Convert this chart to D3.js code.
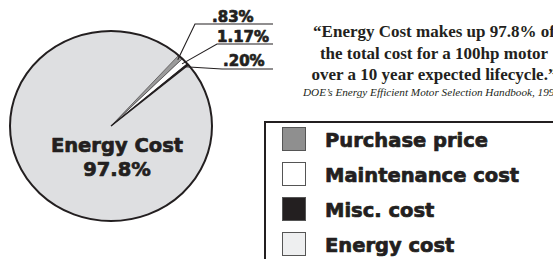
<!DOCTYPE html>
<html lang="en">
<meta charset="utf-8">
<head>
    <script src="https://d3js.org/d3.v7.min.js"></script>
    <style>
        body { margin: 0; background: #fff; }
    </style>
</head>
<body>
<script>
    // data
    var categories = ["Purchase price", "Maintenance cost", "Misc. cost", "Energy cost"];
    var shares = [0.83, 1.17, 0.20, 97.8];
    var sliceLabels = [".83%", "1.17%", ".20%"];
    var colors = ["#9b9b9b", "#ffffff", "#231f20", "#dedfe1"];
    var swatchColors = ["#8f8f8f", "#ffffff", "#231f20", "#eeeff0"];
    var quoteLines = [
        "\u201cEnergy Cost makes up 97.8% of",
        "the total cost for a 100hp motor",
        "over a 10 year expected lifecycle.\u201d"
    ];
    var citation = "DOE\u2019s Energy Efficient Motor Selection Handbook, 1996";

    var width = 553, height = 259;
    var svg = d3.select("body").append("svg")
        .attr("width", width)
        .attr("height", height);

    // heavy sans text, a thin stroke makes it look like a black weight
    function heavy(sel, size) {
        sel.style("font-family", "DejaVu Sans")
            .style("font-weight", "bold")
            .style("font-size", size + "px")
            .attr("fill", "#231f20")
            .attr("stroke", "#231f20")
            .attr("stroke-width", 0.7)
            .attr("stroke-linejoin", "round");
        return sel;
    }

    // pie, squashed a little vertically
    var cx = 111, cy = 126, rx = 101, ry = 95;
    var sy = ry / rx;
    var a0 = 42 * Math.PI / 180;

    var pie = d3.pie()
        .sort(null)
        .value(function(d) { return d; })
        .startAngle(a0)
        .endAngle(a0 + 2 * Math.PI);
    var arcs = pie(shares);

    var arc = d3.arc().innerRadius(0).outerRadius(rx);
    var edge = d3.arc().innerRadius(rx - 4).outerRadius(rx - 4);

    var g = svg.append("g")
        .attr("transform", "translate(" + cx + "," + cy + ") scale(1," + sy + ")");

    // energy slice first, small ones on top
    g.selectAll("path.slice")
        .data([arcs[3], arcs[0], arcs[1], arcs[2]])
        .enter()
        .append("path")
        .attr("class", "slice")
        .attr("d", arc)
        .attr("fill", function(d) { return colors[d.index]; })
        .attr("stroke", function(d) { return d.index == 3 ? "none" : "#231f20"; })
        .attr("stroke-width", function(d) { return d.index == 2 ? 1.4 : 0.6; })
        .attr("stroke-linejoin", "miter");

    g.append("ellipse")
        .attr("rx", rx)
        .attr("ry", rx)
        .attr("fill", "none")
        .attr("stroke", "#231f20")
        .attr("stroke-width", 2)
        .attr("vector-effect", "non-scaling-stroke");

    heavy(svg.append("text")
        .attr("x", 117)
        .attr("y", 152)
        .attr("text-anchor", "middle")
        .text("Energy Cost"), 19.5);
    heavy(svg.append("text")
        .attr("x", 117)
        .attr("y", 176)
        .attr("text-anchor", "middle")
        .text(shares[3] + "%"), 19.5);

    // leader lines + labels for the small slices
    var elbows = [[195, 24], [217, 44], [222, 69]];
    var baselines = [22, 42, 66];
    var labelX = [212, 217, 223];
    var lineEnd = 273;

    for (var i = 0; i < 3; i++) {
        var p = edge.centroid(arcs[i]);
        var start = [cx + p[0], cy + p[1] * sy];
        svg.append("polyline")
            .attr("points", [start, elbows[i], [lineEnd, elbows[i][1]]].map(function(q) { return q.join(","); }).join(" "))
            .attr("fill", "none")
            .attr("stroke", "#231f20")
            .attr("stroke-width", 1.1);
        heavy(svg.append("text")
            .attr("x", labelX[i])
            .attr("y", baselines[i])
            .text(sliceLabels[i]), 15);
    }

    // quote
    svg.selectAll("text.quote")
        .data(quoteLines)
        .enter()
        .append("text")
        .attr("class", "quote")
        .attr("x", 434)
        .attr("y", function(d, i) { return 37 + i * 21.5; })
        .attr("text-anchor", "middle")
        .style("font-family", "Liberation Serif")
        .style("font-weight", "bold")
        .style("font-size", "17px")
        .attr("fill", "#231f20")
        .text(function(d) { return d; });

    svg.append("text")
        .attr("x", 303)
        .attr("y", 96)
        .style("font-family", "Liberation Serif")
        .style("font-style", "italic")
        .style("font-size", "11.2px")
        .attr("fill", "#231f20")
        .text(citation);

    // legend
    svg.append("rect")
        .attr("x", 265)
        .attr("y", 122)
        .attr("width", 320)
        .attr("height", 160)
        .attr("fill", "none")
        .attr("stroke", "#231f20")
        .attr("stroke-width", 2);

    var legend = svg.selectAll("g.item")
        .data(categories)
        .enter()
        .append("g")
        .attr("class", "item")
        .attr("transform", function(d, i) { return "translate(282," + (127 + i * 35) + ")"; });

    legend.append("rect")
        .attr("x", 0.5)
        .attr("y", 0.5)
        .attr("width", 23)
        .attr("height", 23)
        .attr("fill", function(d, i) { return swatchColors[i]; })
        .attr("stroke", "#555")
        .attr("stroke-width", 1);

    heavy(legend.append("text")
        .attr("x", 43)
        .attr("y", 19.7)
        .text(function(d) { return d; }), 19.5);
</script>
</body>
</html>
